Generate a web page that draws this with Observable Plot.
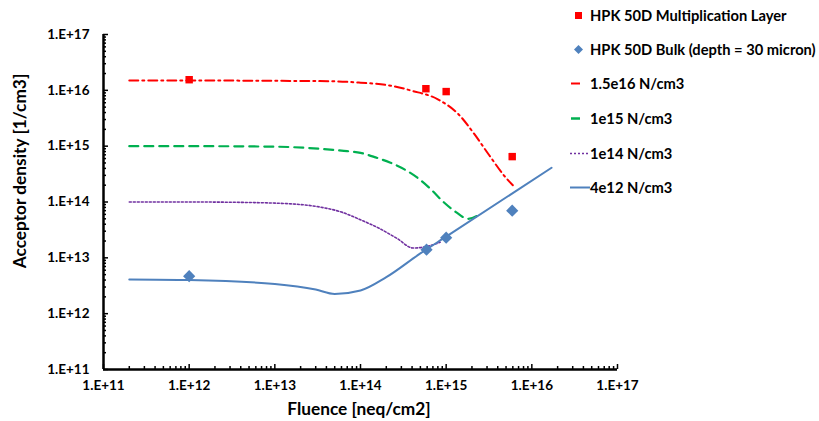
<!DOCTYPE html>
<html><head><meta charset="utf-8">
<script src="https://cdn.jsdelivr.net/npm/d3@7"></script>
<script src="https://cdn.jsdelivr.net/npm/@observablehq/plot@0.6"></script>
<style>
body{margin:0;background:#fff;}
#wrap{position:relative;width:819px;height:421px;font-family:Lato,"Open Sans",sans-serif;}
#legend{position:absolute;left:566px;top:0;font-weight:bold;font-size:14.7px;color:#000;}
.row{position:absolute;left:0;height:20px;display:flex;align-items:center;white-space:nowrap;}
.row svg{width:24px;height:20px;flex:none;}
.atitle{position:absolute;font-weight:bold;font-size:17.3px;color:#000;white-space:nowrap;line-height:20px;}
#xt{left:359px;top:399px;transform:translateX(-50%);}
#yt{left:20px;top:171px;transform:translate(-50%,-50%) rotate(-90deg);}
</style>
</head><body><div id="wrap"><div id="legend"></div></div>
<script>
// ---- data ----
const seriesNames = ["HPK 50D Multiplication Layer","HPK 50D Bulk (depth = 30 micron)","1.5e16 N/cm3","1e15 N/cm3","1e14 N/cm3","4e12 N/cm3"];
const xTitle = "Fluence [neq/cm2]";
const yTitle = "Acceptor density [1/cm3]";
const majorTicks = [1e11,1e12,1e13,1e14,1e15,1e16,1e17];

const multFluence = [1e12, 5.8e14, 1e15, 5.9e15];
const multValue   = [1.55e16, 1.07e16, 9.5e15, 6.5e14];

const bulkFluence = [1e12, 5.9e14, 1e15, 5.9e15];
const bulkValue   = [4.7e12, 1.4e13, 2.3e13, 7e13];

const redFluence = [2e11, 1e12, 1e13, 5e13, 1e14, 2e14, 4e14, 8e14, 1.4e15, 2.1e15, 3.2e15, 4.9e15, 6e15];
const redValue   = [1.5e16, 1.5e16, 1.48e16, 1.45e16, 1.37e16, 1.25e16, 9.8e15, 6.9e15, 3.7e15, 1.7e15, 6.8e14, 2.8e14, 2e14];

const greenFluence = [2e11, 1e12, 1e13, 2.4e13, 6e13, 1e14, 1.5e14, 2.2e14, 3.3e14, 4.8e14, 6.6e14, 9.3e14, 1.3e15, 1.8e15, 2.6e15];
const greenValue   = [1e15, 1e15, 9.8e14, 9.3e14, 8.3e14, 7.6e14, 6.3e14, 5.1e14, 3.8e14, 2.6e14, 1.7e14, 1e14, 6.6e13, 5e13, 6.3e13];

const purpleFluence = [2e11, 1e12, 5e12, 2e13, 3.4e13, 6e13, 1e14, 1.7e14, 2.7e14, 4.1e14, 6e14, 8.5e14];
const purpleValue   = [1e14, 1e14, 9.8e13, 9e13, 8.1e13, 6.6e13, 4.8e13, 3.3e13, 2.2e13, 1.5e13, 1.6e13, 1.9e13];

const blueFluence = [2e11, 1e12, 1e13, 3e13, 5e13, 1e14, 2e14, 5e14, 1e15, 1.7e16];
const blueValue   = [4.1e12, 4e12, 3.4e12, 2.7e12, 2.25e12, 2.6e12, 4.5e12, 1.2e13, 2.4e13, 4.1e14];

// ---- helpers ----
const zip = (xs, ys) => xs.map((x, i) => ({x, y: ys[i]}));
const minorTicks = [];
for (let k = 11; k < 17; k++) for (let m = 2; m <= 9; m++) minorTicks.push(m * 10 ** k);
const fmt = d => "1.E+" + Math.round(Math.log10(d));

const colors = {red:"#FF0000", green:"#00B050", purple:"#7030A0", blue:"#4F81BD"};
const dashes = {red:"9,4,2,4", green:"9,6", purple:"2,2", blue:null};

const chart = Plot.plot({
  width: 819, height: 421,
  marginLeft: 103, marginRight: 202, marginTop: 34, marginBottom: 52,
  style: {fontFamily: "Lato, 'Open Sans', sans-serif", background: "#fff", color: "#000"},
  x: {type: "log", domain: [1e11, 1e17]},
  y: {type: "log", domain: [1e11, 1e17]},
  marks: [
    Plot.axisX(majorTicks, {tickSize: 0, tickPadding: 11, tickFormat: fmt, fontSize: 13.5, fontWeight: "bold", label: null}),
    Plot.axisX(majorTicks, {tickSize: -5, tickFormat: () => "", label: null, strokeWidth: 1.5}),
    Plot.axisX(minorTicks, {tickSize: -3, tickFormat: () => "", label: null, strokeWidth: 1.5}),
    Plot.axisY(majorTicks, {tickSize: 0, tickPadding: 14, tickFormat: fmt, fontSize: 13.5, fontWeight: "bold", label: null}),
    Plot.axisY(majorTicks, {tickSize: -5, tickFormat: () => "", label: null, strokeWidth: 1.5}),
    Plot.axisY(minorTicks, {tickSize: -3, tickFormat: () => "", label: null, strokeWidth: 1.5}),
    Plot.ruleX([1e11], {stroke: "#000", strokeWidth: 2.5}),
    Plot.ruleY([1e11], {stroke: "#000", strokeWidth: 2.5}),
    Plot.line(zip(redFluence, redValue), {x: "x", y: "y", stroke: colors.red, strokeWidth: 2, strokeDasharray: dashes.red, curve: "monotone-x"}),
    Plot.line(zip(greenFluence, greenValue), {x: "x", y: "y", stroke: colors.green, strokeWidth: 2.2, strokeDasharray: dashes.green, curve: "monotone-x"}),
    Plot.line(zip(purpleFluence, purpleValue), {x: "x", y: "y", stroke: colors.purple, strokeWidth: 1.6, strokeDasharray: dashes.purple, curve: "monotone-x"}),
    Plot.line(zip(blueFluence, blueValue), {x: "x", y: "y", stroke: colors.blue, strokeWidth: 2, curve: "monotone-x"}),
    Plot.dot(zip(multFluence, multValue), {x: "x", y: "y", symbol: "square", r: 4.2, fill: colors.red, stroke: "none"}),
    Plot.dot(zip(bulkFluence, bulkValue), {x: "x", y: "y", symbol: "diamond2", r: 5.5, fill: colors.blue, stroke: "none"})
  ]
});
const wrap = document.getElementById("wrap");
wrap.insertBefore(chart, wrap.firstChild);

// ---- axis titles ----
const xt = document.createElement("div"); xt.className = "atitle"; xt.id = "xt"; xt.textContent = xTitle; wrap.appendChild(xt);
const yt = document.createElement("div"); yt.className = "atitle"; yt.id = "yt"; yt.textContent = yTitle; wrap.appendChild(yt);

// ---- legend ----
const legend = document.getElementById("legend");
const rowsY = [5, 39, 73, 108, 143, 177];
const swatches = [
  `<rect x="9" y="7" width="7" height="7" fill="${colors.red}"/>`,
  `<path d="M12.5,6 L17,10.5 L12.5,15 L8,10.5Z" fill="${colors.blue}"/>`,
  `<line x1="5" x2="14" y1="10.5" y2="10.5" stroke="${colors.red}" stroke-width="2"/>`,
  `<line x1="5" x2="14" y1="10.5" y2="10.5" stroke="${colors.green}" stroke-width="2.5"/>`,
  `<line x1="4" x2="24" y1="10.5" y2="10.5" stroke="${colors.purple}" stroke-width="1.5" stroke-dasharray="2,2"/>`,
  `<line x1="4" x2="24" y1="10.5" y2="10.5" stroke="${colors.blue}" stroke-width="2"/>`
];
seriesNames.forEach((name, i) => {
  const row = document.createElement("div");
  row.className = "row";
  row.style.top = rowsY[i] + "px";
  row.innerHTML = `<svg viewBox="0 0 24 20">${swatches[i]}</svg><span>${name}</span>`;
  legend.appendChild(row);
});
</script></body></html>
